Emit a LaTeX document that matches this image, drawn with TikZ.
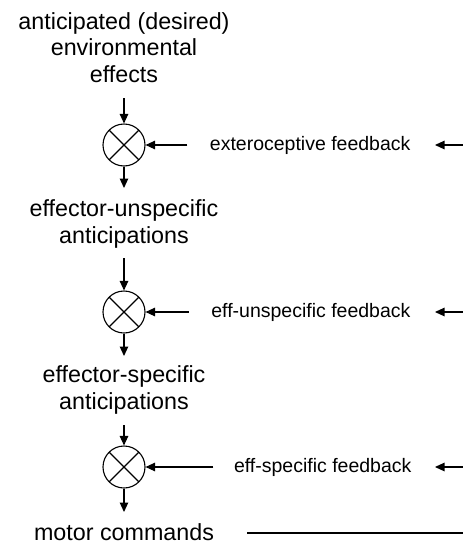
\documentclass[tikz,border=0pt]{standalone}
\usepackage{fontspec}
\setmainfont{Liberation Sans}
\usetikzlibrary{arrows.meta}
\begin{document}
\begin{tikzpicture}[x=1pt,y=1pt,
  line width=1.1pt,
  arr/.style={-{Triangle[length=9.5pt,width=8.5pt]}},
  lbl/.style={align=center,inner sep=0pt,font=\fontsize{23.3}{26.5}\selectfont},
  lbls/.style={inner sep=0pt,font=\fontsize{23.3}{26.5}\selectfont},
  fb/.style={inner sep=0pt,anchor=east,font=\fontsize{19.5}{22}\selectfont},
  comp/.style={circle,draw,minimum size=42pt,inner sep=0pt,
    path picture={\draw (path picture bounding box.north west)--(path picture bounding box.south east)
      (path picture bounding box.north east)--(path picture bounding box.south west);}}]
\useasboundingbox (0,0) rectangle (463,-544);
% labels (base anchor = baseline of last line)
\node[lbl,anchor=base] (t1) at (124,-82) {anticipated (desired)\\environmental\\effects};
\node[lbl,anchor=base] (t2) at (124,-243) {effector-unspecific\\anticipations};
\node[lbl,anchor=base] (t3) at (124,-409) {effector-specific\\anticipations};
\node[lbls,anchor=base] (t4) at (124,-540) {motor commands};
% comparators
\node[comp] (c1) at (124,-145) {};
\node[comp] (c2) at (124,-312) {};
\node[comp] (c3) at (124,-467) {};
% feedback labels
\node[fb] (f1) at (411,-145) {exteroceptive feedback};
\node[fb] (f2) at (411,-312) {eff-unspecific feedback};
\node[fb] (f3) at (412,-467) {eff-specific feedback};
% coordinates
\coordinate (a1) at (124,-98);
\coordinate (b1) at (124,-188);
\coordinate (a2) at (124,-258);
\coordinate (b2) at (124,-356);
\coordinate (a3) at (124,-425);
\coordinate (b3) at (124,-512);
\coordinate (r1) at (463,-145);
\coordinate (r2) at (463,-312);
\coordinate (r3) at (463,-467);
\coordinate (m1) at (247,-533);
\coordinate (m2) at (463,-533);
% vertical arrows
\draw[arr] (a1) -- (c1);
\draw[arr] (c1) -- (b1);
\draw[arr] (a2) -- (c2);
\draw[arr] (c2) -- (b2);
\draw[arr] (a3) -- (c3);
\draw[arr] (c3) -- (b3);
% feedback arrows
\draw[arr] ([xshift=-22pt]f1.west) -- (c1);
\draw[arr] ([xshift=-22pt]f2.west) -- (c2);
\draw[arr] ([xshift=-20pt]f3.west) -- (c3);
\draw[arr] (r1) -- ([xshift=24pt]f1.east);
\draw[arr] (r2) -- ([xshift=24pt]f2.east);
\draw[arr] (r3) -- ([xshift=23pt]f3.east);
\draw (m1) -- (m2);
\end{tikzpicture}
\end{document}
